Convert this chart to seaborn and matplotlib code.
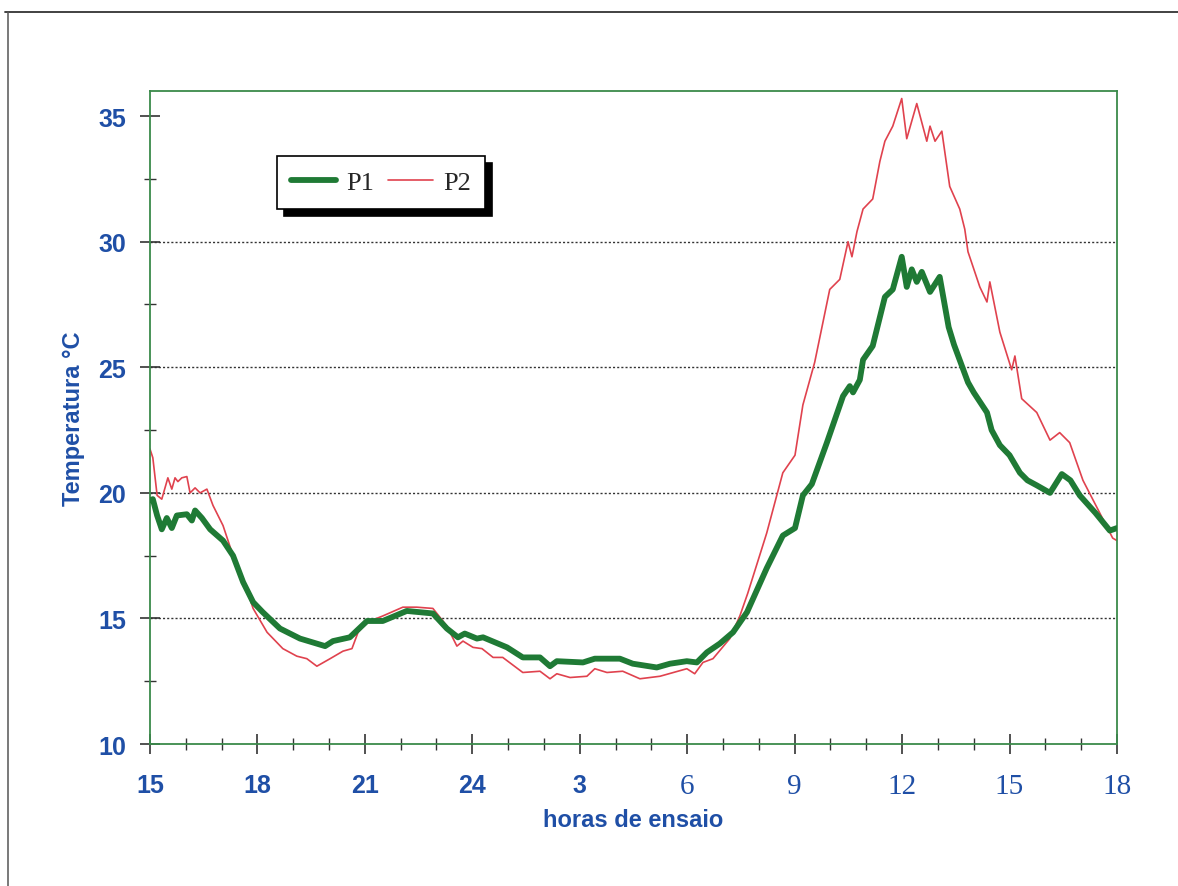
import matplotlib
matplotlib.use("Agg")
import matplotlib.pyplot as plt
from matplotlib.lines import Line2D
import seaborn as sns
import pandas as pd

# hours elapsed since 15:00 and temperatures (°C)
p1_hours = [0.0, 0.08, 0.2, 0.33, 0.47, 0.61, 0.75, 1.03, 1.17, 1.26, 1.45, 1.68, 2.04, 2.32, 2.6,
            2.88, 3.15, 3.63, 4.19, 4.89, 5.11, 5.58, 6.06, 6.5, 7.17, 7.9, 8.29, 8.6, 8.79, 9.13,
            9.3, 9.97, 10.41, 10.89, 11.17, 11.36, 12.09, 12.42, 13.12, 13.48, 14.15, 14.52, 14.99,
            15.27, 15.55, 15.91, 16.28, 16.67, 17.22, 17.67, 18.01, 18.23, 18.48, 18.9, 19.35,
            19.54, 19.63, 19.82, 19.91, 20.18, 20.52, 20.74, 20.99, 21.13, 21.27, 21.41, 21.55,
            21.78, 22.05, 22.3, 22.45, 22.84, 23.0, 23.37, 23.5, 23.73, 24.0, 24.29, 24.5, 24.76,
            25.13, 25.46, 25.7, 25.96, 26.4, 26.8, 27.0]
p1_temp = [19.7, 19.75, 19.1, 18.55, 19.0, 18.6, 19.1, 19.15, 18.9, 19.3, 19.0, 18.55, 18.1, 17.5, 16.45,
           15.65, 15.25, 14.6, 14.2, 13.9, 14.1, 14.25, 14.9, 14.9, 15.3, 15.2, 14.6, 14.25, 14.4, 14.2,
           14.25, 13.85, 13.45, 13.45, 13.1, 13.3, 13.25, 13.4, 13.4, 13.2, 13.05, 13.2, 13.3,
           13.25, 13.65, 14.0, 14.45, 15.25, 17.0, 18.3, 18.6, 19.9, 20.35, 22.0, 23.85,
           24.25, 24.0, 24.5, 25.3, 25.85, 27.8, 28.1, 29.4, 28.2, 28.9, 28.4, 28.8,
           28.0, 28.6, 26.6, 25.9, 24.4, 24.0, 23.2, 22.5, 21.9, 21.5, 20.8, 20.5, 20.3,
           20.0, 20.75, 20.5, 19.9, 19.2, 18.5, 18.6]

p2_hours = [0.0, 0.08, 0.2, 0.33, 0.5, 0.61, 0.7, 0.78, 0.89, 1.03, 1.12, 1.26, 1.4, 1.59, 1.76, 2.04,
            2.32, 2.6, 2.88, 3.27, 3.71, 4.1, 4.38, 4.66, 5.03, 5.39, 5.64, 5.81, 6.06, 6.5, 7.06,
            7.45, 7.9, 8.29, 8.57, 8.74, 9.02, 9.27, 9.58, 9.85, 10.41, 10.89, 11.17, 11.36, 11.73,
            12.2, 12.42, 12.76, 13.2, 13.68, 14.24, 14.99, 15.21, 15.44, 15.72, 16.19, 16.47, 16.69,
            17.22, 17.67, 18.01, 18.23, 18.56, 18.98, 19.26, 19.49, 19.6, 19.74, 19.91, 20.18,
            20.38, 20.52, 20.74, 20.99, 21.13, 21.41, 21.69, 21.78, 21.92, 22.11, 22.33, 22.61,
            22.75, 22.84, 23.17, 23.37, 23.45, 23.73, 24.06, 24.15, 24.34, 24.76, 25.13, 25.4,
            25.68, 26.05, 26.88, 27.0]
p2_temp = [21.75, 21.4, 19.9, 19.75, 20.6, 20.15, 20.6, 20.45, 20.6, 20.65, 20.0, 20.2, 20.0, 20.15, 19.5,
           18.7, 17.5, 16.6, 15.4, 14.45, 13.8, 13.5, 13.4, 13.1, 13.4, 13.7, 13.8, 14.45, 14.85, 15.1,
           15.45, 15.45, 15.4, 14.7, 13.9, 14.1, 13.85, 13.8, 13.45, 13.45, 12.85, 12.9, 12.6, 12.8,
           12.65, 12.7, 13.0, 12.85, 12.9, 12.6, 12.7, 13.0, 12.8, 13.25, 13.4, 14.2, 15.1, 16.0,
           18.4, 20.8, 21.5, 23.5, 25.2, 28.1, 28.5, 30.0, 29.4, 30.4, 31.3, 31.7,
           33.2, 34.0, 34.6, 35.7, 34.1, 35.5, 34.0, 34.6, 34.0, 34.4, 32.2, 31.3,
           30.5, 29.6, 28.2, 27.6, 28.4, 26.4, 24.9, 25.45, 23.75, 23.2, 22.1, 22.4,
           22.0, 20.5, 18.2, 18.1]

series_names = ["P1", "P2"]
x_tick_labels = ["15", "18", "21", "24", "3", "6", "9", "12", "15", "18"]
y_ticks = [10, 15, 20, 25, 30, 35]
grid_values = [15, 20, 25, 30]

sns.set_style("white")
plt.rcParams["font.family"] = ["Liberation Sans", "DejaVu Sans"]

df1 = pd.DataFrame({"h": p1_hours, "T": p1_temp})
df2 = pd.DataFrame({"h": p2_hours, "T": p2_temp})

fig = plt.figure(figsize=(11.78, 8.87), dpi=100)
ax = fig.add_axes([0.1273, 0.160, 0.8209, 0.7363])

blue = "#1f4fa6"
green = "#1f7a35"
red = "#e0424e"

for v in grid_values:
    ax.axhline(v, color="#333333", lw=1.0, ls=(0, (1.5, 1.5)), zorder=1)

sns.lineplot(data=df1, x="h", y="T", ax=ax, color=green, lw=4.2, label=series_names[0],
             estimator=None, sort=False, zorder=3)
sns.lineplot(data=df2, x="h", y="T", ax=ax, color=red, lw=1.2, label=series_names[1],
             estimator=None, sort=False, zorder=2)

ax.set_xlim(0, 27)
ax.set_ylim(10, 36)
ax.set_xticks(range(0, 28, 3))
ax.set_xticks(range(0, 28, 1), minor=True)
ax.set_yticks(y_ticks)
ax.set_yticks([12.5, 17.5, 22.5, 27.5, 32.5], minor=True)

for s in ax.spines.values():
    s.set_color("#3a8a4a")
    s.set_linewidth(1.3)

ax.tick_params(axis="both", which="both", bottom=True, left=True, top=False, right=False)
ax.tick_params(axis="both", which="major", direction="inout", length=14, width=1.2,
               color="#333333", pad=10)
ax.tick_params(axis="both", which="minor", direction="inout", length=9, width=1.0,
               color="#333333")
ax.tick_params(axis="x", which="major", pad=14)

ax.set_xticklabels(x_tick_labels)
for i, lab in enumerate(ax.get_xticklabels()):
    lab.set_color(blue)
    if i >= 5:
        lab.set_fontfamily("Liberation Serif")
        lab.set_fontsize(21)
    else:
        lab.set_fontsize(18)
        lab.set_fontweight("bold")
for lab in ax.get_yticklabels():
    lab.set_color(blue)
    lab.set_fontsize(18)
    lab.set_fontweight("bold")

ax.set_xlabel("horas de ensaio", fontsize=17, color=blue, fontweight="bold", labelpad=6)
ax.set_ylabel("Temperatura °C", fontsize=17, color=blue, fontweight="bold", labelpad=10)

leg = ax.legend(loc="upper left", bbox_to_anchor=(0.131, 0.90), ncol=2, frameon=True,
                fancybox=False, shadow={"color": "black", "alpha": 1.0, "ox": 5, "oy": -5},
                prop={"family": "Liberation Serif", "size": 19}, handlelength=1.7,
                columnspacing=0.5, handletextpad=0.4, borderpad=0.55, borderaxespad=0.0)
leg.get_frame().set_edgecolor("black")
leg.get_frame().set_linewidth(1.2)
leg.get_frame().set_alpha(1.0)

# outer frame of the scanned page
fig.add_artist(Line2D([0.004, 1.0], [0.985, 0.985], transform=fig.transFigure,
                      color="#333333", lw=1.3))
fig.add_artist(Line2D([0.007, 0.007], [0.0, 0.985], transform=fig.transFigure,
                      color="#555555", lw=1.1))

fig.savefig("out.png", dpi=100)
